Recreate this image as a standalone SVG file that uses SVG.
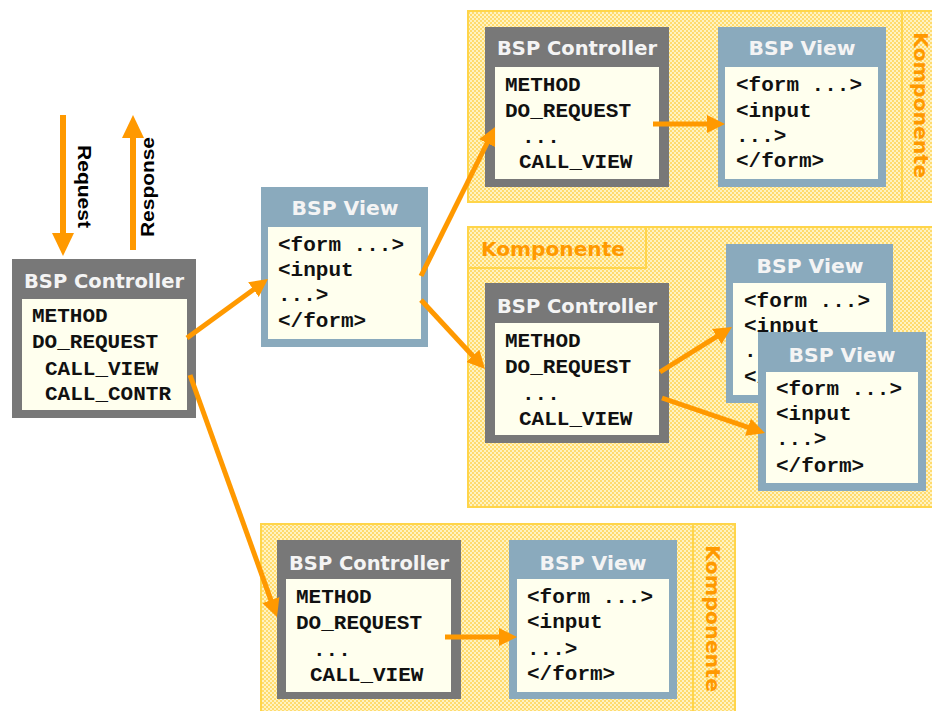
<svg xmlns="http://www.w3.org/2000/svg" width="932" height="711" viewBox="0 0 932 711">
  <defs>
    <!-- dithered yellow fill for component areas -->
    <pattern id="dither" patternUnits="userSpaceOnUse" width="4" height="4">
      <rect width="4" height="4" fill="#fff3c2"/>
      <rect width="2" height="2" fill="#ffdb6e"/>
      <rect x="2" y="2" width="2" height="2" fill="#ffdb6e"/>
    </pattern>
    <!-- part of the rear view that stays visible behind the front view -->
    <clipPath id="rearVisible">
      <polygon points="726,244 893,244 893,332 758,332 758,403 726,403"/>
    </clipPath>
    <marker id="ah" markerUnits="userSpaceOnUse" markerWidth="18" markerHeight="18" refX="8" refY="9" orient="auto">
      <path d="M0,0 L18,9 L0,18 z" fill="#ff9900"/>
    </marker>
    <marker id="ahBig" markerUnits="userSpaceOnUse" markerWidth="23" markerHeight="22" refX="8" refY="11" orient="auto">
      <path d="M0,0 L23,11 L0,22 z" fill="#ff9900"/>
    </marker>
  </defs>
  <style>
    .comp { fill: url(#dither); stroke: #ffd54a; stroke-width: 2; }
    .divider { stroke: #ffd54a; stroke-width: 2; }
    .ctrl { fill: #787878; }
    .view { fill: #8aaabd; }
    .body { fill: #ffffee; }
    .hdr { font-family: "DejaVu Sans", Verdana, sans-serif; font-weight: bold; font-size: 19px; fill: #f4f4f4; text-anchor: middle; }
    .code { font-family: "Liberation Mono", "Courier New", monospace; font-weight: bold; font-size: 21px; fill: #111111; }
    .komp { font-family: "DejaVu Sans", Verdana, sans-serif; font-weight: bold; font-size: 20px; fill: #ff9900; }
    .io { font-family: "Liberation Sans", Arial, sans-serif; font-weight: bold; font-size: 19px; fill: #000000; }
    .conn { stroke: #ff9900; stroke-width: 5; fill: none; marker-end: url(#ah); }
    .connBig { stroke: #ff9900; stroke-width: 6; fill: none; marker-end: url(#ahBig); }
  </style>

  <rect width="932" height="711" fill="#ffffff"/>

  <!-- component areas -->
  <g id="comp-top">
    <rect class="comp" x="468" y="11" width="480" height="191"/>
    <line class="divider" x1="902" y1="11" x2="902" y2="202"/>
    <text class="komp" transform="translate(914,32) rotate(90)" textLength="146" lengthAdjust="spacingAndGlyphs">Komponente</text>
  </g>
  <g id="comp-middle">
    <rect class="comp" x="468" y="227" width="480" height="280"/>
    <rect class="comp" x="468" y="227" width="178" height="41"/>
    <text class="komp" x="481" y="256" textLength="144" lengthAdjust="spacingAndGlyphs">Komponente</text>
  </g>
  <g id="comp-bottom">
    <rect class="comp" x="261" y="524" width="474" height="200"/>
    <line class="divider" x1="693" y1="524" x2="693" y2="711"/>
    <text class="komp" transform="translate(706,545) rotate(90)" textLength="147" lengthAdjust="spacingAndGlyphs">Komponente</text>
  </g>

  <!-- request / response -->
  <g id="request">
    <line class="connBig" x1="63" y1="115" x2="63" y2="241"/>
    <text class="io" transform="translate(78,145) rotate(90)" textLength="83" lengthAdjust="spacingAndGlyphs">Request</text>
  </g>
  <g id="response">
    <line class="connBig" x1="133" y1="250" x2="133" y2="130"/>
    <text class="io" transform="translate(154,237) rotate(-90)" textLength="100" lengthAdjust="spacingAndGlyphs">Response</text>
  </g>

  <!-- main controller -->
  <g id="ctrl-main">
    <rect class="ctrl" x="12" y="259" width="184" height="159"/>
    <rect class="body" x="22" y="299" width="165" height="111"/>
    <text class="hdr" x="104" y="288" textLength="160" lengthAdjust="spacingAndGlyphs">BSP Controller</text>
    <text class="code" x="32" y="322">METHOD</text>
    <text class="code" x="32" y="348">DO_REQUEST</text>
    <text class="code" x="45" y="375">CALL_VIEW</text>
    <text class="code" x="45" y="400">CALL_CONTR</text>
  </g>

  <!-- main view -->
  <g id="view-main">
    <rect class="view" x="261" y="187" width="167" height="160"/>
    <rect class="body" x="268" y="227" width="153" height="112"/>
    <text class="hdr" x="345" y="215" textLength="107" lengthAdjust="spacingAndGlyphs">BSP View</text>
    <text class="code" x="278" y="251">&lt;form ...&gt;</text>
    <text class="code" x="278" y="276">&lt;input</text>
    <text class="code" x="278" y="301">...&gt;</text>
    <text class="code" x="278" y="327">&lt;/form&gt;</text>
  </g>

  <!-- top component nodes -->
  <g id="ctrl-top">
    <rect class="ctrl" x="485" y="27" width="184" height="160"/>
    <rect class="body" x="495" y="67" width="164" height="112"/>
    <text class="hdr" x="577" y="55" textLength="160" lengthAdjust="spacingAndGlyphs">BSP Controller</text>
    <text class="code" x="505" y="91">METHOD</text>
    <text class="code" x="505" y="117">DO_REQUEST</text>
    <text class="code" x="522" y="143">...</text>
    <text class="code" x="519" y="168">CALL_VIEW</text>
  </g>
  <g id="view-top">
    <rect class="view" x="718" y="27" width="168" height="160"/>
    <rect class="body" x="725" y="67" width="153" height="112"/>
    <text class="hdr" x="802" y="55" textLength="107" lengthAdjust="spacingAndGlyphs">BSP View</text>
    <text class="code" x="736" y="91">&lt;form ...&gt;</text>
    <text class="code" x="736" y="117">&lt;input</text>
    <text class="code" x="736" y="142">...&gt;</text>
    <text class="code" x="736" y="167">&lt;/form&gt;</text>
  </g>

  <!-- middle component nodes -->
  <g id="ctrl-middle">
    <rect class="ctrl" x="485" y="283" width="184" height="160"/>
    <rect class="body" x="495" y="323" width="164" height="112"/>
    <text class="hdr" x="577" y="313" textLength="160" lengthAdjust="spacingAndGlyphs">BSP Controller</text>
    <text class="code" x="505" y="347">METHOD</text>
    <text class="code" x="505" y="373">DO_REQUEST</text>
    <text class="code" x="522" y="400">...</text>
    <text class="code" x="519" y="425">CALL_VIEW</text>
  </g>
  <g id="view-middle-back">
    <rect class="view" x="726" y="244" width="167" height="159"/>
    <rect class="body" x="733" y="283" width="153" height="112"/>
    <text class="hdr" x="810" y="273" textLength="107" lengthAdjust="spacingAndGlyphs">BSP View</text>
    <g clip-path="url(#rearVisible)">
      <text class="code" x="744" y="307">&lt;form ...&gt;</text>
      <text class="code" x="744" y="332">&lt;input</text>
      <text class="code" x="744" y="357">...&gt;</text>
      <text class="code" x="744" y="383">&lt;/form&gt;</text>
    </g>
  </g>
  <g id="view-middle-front">
    <rect class="view" x="758" y="332" width="168" height="159"/>
    <rect class="body" x="766" y="372" width="152" height="111"/>
    <text class="hdr" x="842" y="362" textLength="107" lengthAdjust="spacingAndGlyphs">BSP View</text>
    <text class="code" x="776" y="395">&lt;form ...&gt;</text>
    <text class="code" x="776" y="420">&lt;input</text>
    <text class="code" x="776" y="445">...&gt;</text>
    <text class="code" x="776" y="472">&lt;/form&gt;</text>
  </g>

  <!-- bottom component nodes -->
  <g id="ctrl-bottom">
    <rect class="ctrl" x="277" y="540" width="184" height="159"/>
    <rect class="body" x="286" y="579" width="165" height="113"/>
    <text class="hdr" x="369" y="570" textLength="160" lengthAdjust="spacingAndGlyphs">BSP Controller</text>
    <text class="code" x="296" y="603">METHOD</text>
    <text class="code" x="296" y="629">DO_REQUEST</text>
    <text class="code" x="313" y="656">...</text>
    <text class="code" x="310" y="681">CALL_VIEW</text>
  </g>
  <g id="view-bottom">
    <rect class="view" x="509" y="540" width="168" height="159"/>
    <rect class="body" x="517" y="579" width="152" height="113"/>
    <text class="hdr" x="593" y="570" textLength="107" lengthAdjust="spacingAndGlyphs">BSP View</text>
    <text class="code" x="527" y="603">&lt;form ...&gt;</text>
    <text class="code" x="527" y="628">&lt;input</text>
    <text class="code" x="527" y="655">...&gt;</text>
    <text class="code" x="527" y="680">&lt;/form&gt;</text>
  </g>

  <!-- connectors -->
  <g id="connectors">
    <line class="conn" x1="187" y1="338" x2="259.9" y2="284.9"/>
    <line class="conn" x1="190" y1="375" x2="273.6" y2="607.6"/>
    <line class="conn" x1="421" y1="276" x2="490.6" y2="136"/>
    <line class="conn" x1="421" y1="300" x2="478.2" y2="361.7"/>
    <line class="conn" x1="653" y1="124" x2="715" y2="124"/>
    <line class="conn" x1="660" y1="372" x2="723.5" y2="332.3"/>
    <line class="conn" x1="662" y1="398" x2="755.5" y2="429.8"/>
    <line class="conn" x1="445" y1="637" x2="507" y2="637"/>
  </g>
</svg>
